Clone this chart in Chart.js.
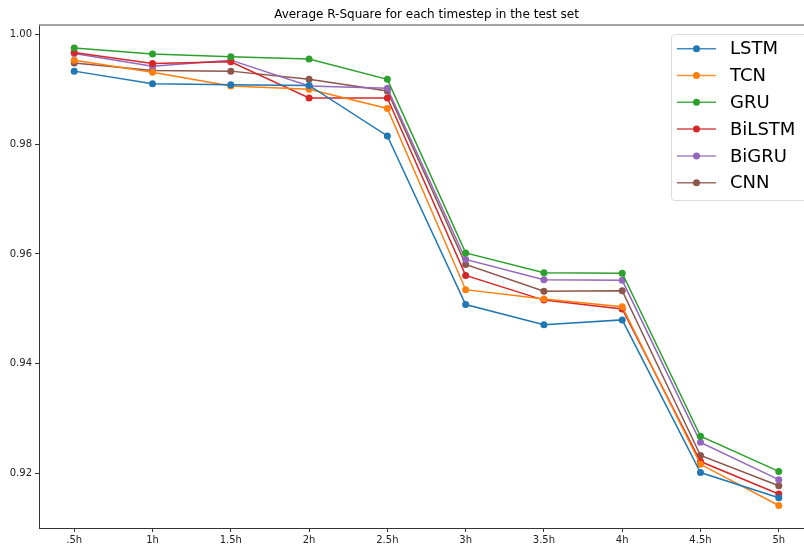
<!DOCTYPE html>
<html>
<head>
<meta charset="utf-8">
<script src="https://cdn.jsdelivr.net/npm/chart.js@4.4.0/dist/chart.umd.min.js"></script>
<style>
    html, body { margin: 0; padding: 0; background: #fff; overflow: hidden; width: 804px; height: 544px; }
    #chart { position: absolute; left: 0; top: 0; }
</style>
</head>
<body>
<canvas id="chart" width="830" height="544"></canvas>
<script>
// Timesteps on the x axis
const timesteps = ['.5h', '1h', '1.5h', '2h', '2.5h', '3h', '3.5h', '4h', '4.5h', '5h'];

// Average R-Square per model
const lstm   = [0.9933, 0.9910, 0.9908, 0.9907, 0.9815, 0.9508, 0.9471, 0.9480, 0.9202, 0.9156];
const tcn    = [0.9953, 0.9931, 0.9906, 0.9900, 0.9865, 0.9535, 0.9518, 0.9504, 0.9217, 0.9142];
const gru    = [0.9975, 0.9964, 0.9959, 0.9955, 0.9918, 0.9602, 0.9566, 0.9565, 0.9268, 0.9204];
const bilstm = [0.9967, 0.9947, 0.9950, 0.9884, 0.9884, 0.9561, 0.9516, 0.9500, 0.9222, 0.9163];
const bigru  = [0.9965, 0.9942, 0.9953, 0.9906, 0.9902, 0.9590, 0.9553, 0.9552, 0.9257, 0.9189];
const cnn    = [0.9948, 0.9934, 0.9933, 0.9918, 0.9897, 0.9581, 0.9532, 0.9533, 0.9233, 0.9178];

const yTicks = [0.92, 0.94, 0.96, 0.98, 1.00];

const seriesNames = ['LSTM', 'TCN', 'GRU', 'BiLSTM', 'BiGRU', 'CNN'];
const seriesValues = [lstm, tcn, gru, bilstm, bigru, cnn];
const colors = ['#1f77b4', '#ff7f0e', '#2ca02c', '#d62728', '#9467bd', '#8c564b'];

const FONT = '"DejaVu Sans", sans-serif';

const datasets = seriesNames.map((name, i) => ({
    label: name,
    data: seriesValues[i].map((v, j) => ({ x: j, y: v })),
    borderColor: colors[i],
    backgroundColor: colors[i],
    borderWidth: 1.5,
    pointRadius: 3.5,
    pointBorderWidth: 0,
    pointHoverRadius: 3.5,
    tension: 0
}));

// Title, spine on top and the matplotlib-style legend
const decorations = {
    id: 'decorations',
    afterDraw(chart) {
        const ctx = chart.ctx;
        const area = chart.chartArea;
        ctx.save();

        ctx.fillStyle = '#000';
        ctx.font = '12px ' + FONT;
        ctx.textAlign = 'center';
        ctx.textBaseline = 'middle';
        ctx.fillText('Average R-Square for each timestep in the test set', (area.left + area.right) / 2, 15);

        ctx.strokeStyle = '#888';
        ctx.lineWidth = 1.5;
        ctx.beginPath();
        ctx.moveTo(area.left, area.top);
        ctx.lineTo(area.right, area.top);
        ctx.stroke();

        // legend box
        const bx = 671, by = 34, bw = 140, bh = 166;
        ctx.fillStyle = 'rgba(255,255,255,0.9)';
        ctx.strokeStyle = '#dcdcdc';
        ctx.lineWidth = 1;
        ctx.beginPath();
        ctx.roundRect(bx + 0.5, by + 0.5, bw, bh, 3);
        ctx.fill();
        ctx.stroke();

        ctx.font = '18px ' + FONT;
        ctx.textAlign = 'left';
        chart.data.datasets.forEach((ds, i) => {
            const y = 48.7 + i * 26.8;
            ctx.globalAlpha = 0.85;
            ctx.strokeStyle = ds.borderColor;
            ctx.lineWidth = 1.5;
            ctx.beginPath();
            ctx.moveTo(677, y);
            ctx.lineTo(716, y);
            ctx.stroke();
            ctx.globalAlpha = 1;
            ctx.fillStyle = ds.borderColor;
            ctx.beginPath();
            ctx.arc(696.5, y, 3.5, 0, Math.PI * 2);
            ctx.fill();
            ctx.fillStyle = '#000';
            ctx.fillText(ds.label, 730, y + 1);
        });
        ctx.restore();
    }
};

new Chart(document.getElementById('chart'), {
    type: 'line',
    data: { datasets: datasets },
    options: {
        responsive: false,
        animation: false,
        devicePixelRatio: 1,
        layout: { padding: { left: 0, right: 16, top: 25, bottom: 0 } },
        plugins: {
            legend: { display: false },
            title: { display: false },
            tooltip: { enabled: false }
        },
        scales: {
            x: {
                type: 'linear',
                min: -0.45,
                max: timesteps.length - 1 + 0.45,
                afterBuildTicks(scale) {
                    scale.ticks = timesteps.map((_, i) => ({ value: i }));
                },
                afterFit(scale) { scale.height = 16; },
                ticks: {
                    callback: (v) => timesteps[v],
                    color: '#222',
                    font: { family: FONT, size: 10 },
                    padding: 2,
                    maxRotation: 0,
                    autoSkip: false
                },
                grid: { drawOnChartArea: false, drawTicks: true, tickLength: 4, color: '#333' },
                border: { display: true, color: '#333' }
            },
            y: {
                min: 0.9101,
                max: 1.0017,
                afterBuildTicks(scale) {
                    scale.ticks = yTicks.map(v => ({ value: v }));
                },
                afterFit(scale) { scale.width = 39; },
                ticks: {
                    callback: (v) => v.toFixed(2),
                    color: '#222',
                    font: { family: FONT, size: 10 },
                    padding: 3
                },
                grid: { drawOnChartArea: false, drawTicks: true, tickLength: 4, color: '#333' },
                border: { display: true, color: '#333' }
            }
        }
    },
    plugins: [decorations]
});
</script>
</body>
</html>
